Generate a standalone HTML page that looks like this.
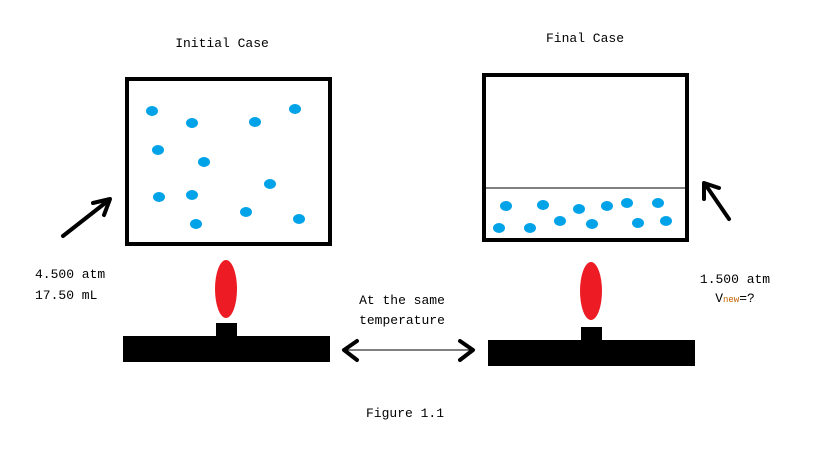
<!DOCTYPE html>
<html><head><meta charset="utf-8"><style>
html,body{margin:0;padding:0;background:#fff;}
svg{display:block;}
text{font-family:"Liberation Mono","Noto Sans CJK SC",monospace;font-size:13px;fill:#000;}
</style></head><body>
<svg width="819" height="460" viewBox="0 0 819 460" xmlns="http://www.w3.org/2000/svg">
<rect x="0" y="0" width="819" height="460" fill="#fff"/>
<text x="222" y="47" text-anchor="middle">Initial Case</text>
<text x="585" y="42" text-anchor="middle">Final Case</text>
<rect x="127" y="79" width="203" height="165" fill="none" stroke="#000" stroke-width="4"/>
<rect x="484" y="75" width="203" height="165" fill="none" stroke="#000" stroke-width="4"/>
<line x1="484" y1="188" x2="687" y2="188" stroke="#000" stroke-width="1"/>
<g fill="#00A2E8">
<ellipse cx="152" cy="111" rx="6" ry="5"/><ellipse cx="192" cy="123" rx="6" ry="5"/>
<ellipse cx="255" cy="122" rx="6" ry="5"/><ellipse cx="295" cy="109" rx="6" ry="5"/>
<ellipse cx="158" cy="150" rx="6" ry="5"/><ellipse cx="204" cy="162" rx="6" ry="5"/>
<ellipse cx="270" cy="184" rx="6" ry="5"/><ellipse cx="159" cy="197" rx="6" ry="5"/>
<ellipse cx="192" cy="195" rx="6" ry="5"/><ellipse cx="246" cy="212" rx="6" ry="5"/>
<ellipse cx="196" cy="224" rx="6" ry="5"/><ellipse cx="299" cy="219" rx="6" ry="5"/>
<ellipse cx="506" cy="206" rx="6" ry="5"/><ellipse cx="543" cy="205" rx="6" ry="5"/>
<ellipse cx="579" cy="209" rx="6" ry="5"/><ellipse cx="607" cy="206" rx="6" ry="5"/>
<ellipse cx="627" cy="203" rx="6" ry="5"/><ellipse cx="658" cy="203" rx="6" ry="5"/>
<ellipse cx="499" cy="228" rx="6" ry="5"/><ellipse cx="530" cy="228" rx="6" ry="5"/>
<ellipse cx="560" cy="221" rx="6" ry="5"/><ellipse cx="592" cy="224" rx="6" ry="5"/>
<ellipse cx="638" cy="223" rx="6" ry="5"/><ellipse cx="666" cy="221" rx="6" ry="5"/>
</g>
<g fill="#ED1C24">
<ellipse cx="226" cy="289" rx="11" ry="29"/>
<ellipse cx="591" cy="291" rx="11" ry="29"/>
</g>
<g fill="#000">
<rect x="216" y="323" width="21" height="14"/>
<rect x="123" y="336" width="207" height="26"/>
<rect x="581" y="327" width="21" height="14"/>
<rect x="488" y="340" width="207" height="26"/>
</g>
<g stroke="#000" stroke-width="4" stroke-linecap="round" stroke-linejoin="round" fill="none">
<line x1="63" y1="236" x2="109" y2="200"/>
<polyline points="93,203 110,199 104,215"/>
<line x1="729" y1="219" x2="705" y2="184"/>
<polyline points="704,199 704,183 719,188"/>
</g>
<g stroke="#000" fill="none" stroke-linecap="round" stroke-linejoin="round">
<line x1="343" y1="350" x2="474" y2="350" stroke-width="1"/>
<polyline points="357,341 344,350 357,360" stroke-width="4"/>
<polyline points="460,341 473,350 460,360" stroke-width="4"/>
</g>
<text x="402" y="304" text-anchor="middle">At the same</text>
<text x="402" y="324" text-anchor="middle">temperature</text>
<text x="35" y="278">4.500 atm</text>
<text x="35" y="299">17.50 mL</text>
<text x="735" y="283" text-anchor="middle">1.500 atm</text>
<text x="735" y="302" text-anchor="middle">V<tspan font-size="9" fill="#c06000">new</tspan>=?</text>
<text x="405" y="417" text-anchor="middle">Figure 1.1</text>
</svg>
</body></html>
